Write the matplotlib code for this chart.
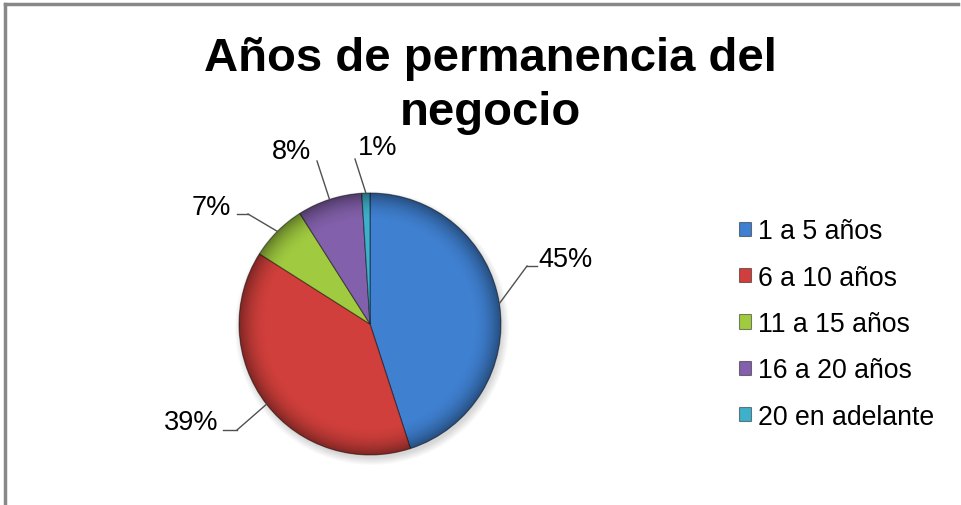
import numpy as np
import matplotlib.pyplot as plt
from matplotlib.patches import Circle

plt.rcParams['font.family'] = ['Liberation Sans', 'DejaVu Sans']

# Datos
categorias = ['1 a 5 años', '6 a 10 años', '11 a 15 años', '16 a 20 años', '20 en adelante']
porcentajes = [45, 39, 7, 8, 1]
colores = ['#3f80d0', '#d03f3b', '#a0cb40', '#8360ab', '#3fb0ca']

# Posiciones de las etiquetas (px, y desde arriba)
pos_etiquetas = [(566, 260), (191, 423), (211, 208), (292, 152), (378, 148)]
codo = [(527, 267), (237, 431), (248, 215), (317, 162), (355, 160)]
tramo = [10, 14, 11, 0, 0]

W, H = 962, 506
fig = plt.figure(figsize=(W / 100, H / 100), dpi=100)
ax = fig.add_axes([0, 0, 1, 1])
ax.axis('off')

cx, cy, r = 370, H - 325, 131

# Sombra suave
for k in range(8):
    ax.add_patch(Circle((cx + 2, cy - 4), r + 6 - k, color='black', alpha=0.018, lw=0, zorder=1))

wedges, _ = ax.pie(porcentajes, colors=colores, startangle=90, counterclock=False,
                   center=(cx, cy), radius=r, frame=True,
                   wedgeprops=dict(edgecolor=(0, 0, 0, 0.45), linewidth=0.8))
for w in wedges:
    w.set_zorder(2)

# Bisel: oscurecer el borde del círculo
yy, xx = np.mgrid[0:200, 0:200]
d = np.hypot(xx - 99.5, yy - 99.5) / 100.0
sombra = np.zeros((200, 200, 4))
sombra[..., 3] = np.clip((d - 0.78) / 0.22, 0, 1) ** 2 * 0.4
im = ax.imshow(sombra, extent=(cx - r, cx + r, cy - r, cy + r), zorder=3, interpolation='bilinear')
im.set_clip_path(Circle((cx, cy), r, transform=ax.transData))
ax.set_xlim(0, W)
ax.set_ylim(0, H)
ax.set_aspect('equal')

# Etiquetas con líneas guía
for w, p, (tx, ty), (ex, ey), t in zip(wedges, porcentajes, pos_etiquetas, codo, tramo):
    ang = np.deg2rad((w.theta1 + w.theta2) / 2)
    px, py = cx + r * np.cos(ang), cy + r * np.sin(ang)
    ey = H - ey
    ax.plot([px, ex], [py, ey], color='#505050', lw=1, zorder=4)
    if t:
        hx = ex + t if tx > ex else ex - t
        ax.plot([ex, hx], [ey, ey], color='#505050', lw=1, zorder=4)
    ax.text(tx, H - ty, f'{p}%', fontsize=19.5, ha='center', va='center', color='black')

# Título
ax.text(490, H - 125, 'Años de permanencia del\nnegocio', fontsize=34, fontweight='bold',
        ha='center', va='baseline', linespacing=1.28, multialignment='center')

# Leyenda
ax.legend(wedges, categorias, loc='center left', bbox_to_anchor=(739 / W, 1 - 325 / H),
          frameon=False, fontsize=19.2, handlelength=0.45, handleheight=0.45,
          handletextpad=0.28, labelspacing=0.76, borderaxespad=0, borderpad=0)

# Marco
ax.plot([5, 958], [H - 5, H - 5], color='#888888', lw=2.5, clip_on=False)
ax.plot([5, 5], [H - 5, 0], color='#888888', lw=2.5, clip_on=False)

fig.savefig('out.png', dpi=100)
